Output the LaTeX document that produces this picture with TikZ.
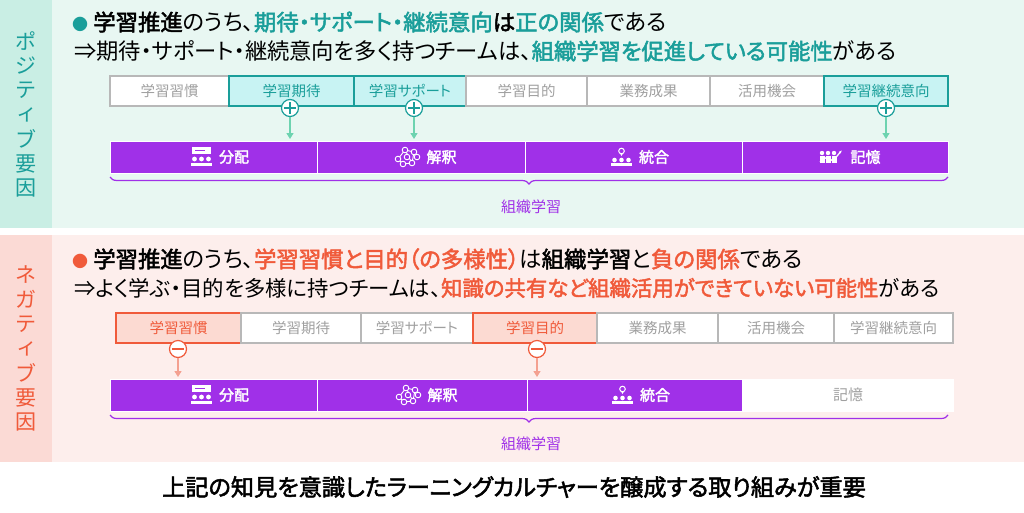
\documentclass[tikz,border=0pt]{standalone}
\usepackage{fontspec}
\setmainfont{Noto Sans CJK JP}[AutoFakeBold=2.2,RawFeature=+palt]
\usetikzlibrary{decorations.pathreplacing,arrows.meta}
\definecolor{teal}{HTML}{1A9E9A}
\definecolor{mint}{HTML}{E8F7F2}
\definecolor{mintband}{HTML}{C9EEE4}
\definecolor{pinkbg}{HTML}{FDEEEC}
\definecolor{pinkband}{HTML}{FBDAD5}
\definecolor{hbox}{HTML}{C8F3F3}
\definecolor{garrow}{HTML}{6DD3B0}
\definecolor{purp}{HTML}{A030E8}
\definecolor{red}{HTML}{F05A3A}
\definecolor{nbox}{HTML}{FCDAD2}
\definecolor{parrow}{HTML}{F4A090}
\definecolor{gtext}{HTML}{A0A0A0}
\definecolor{gline}{HTML}{B8B8B8}
\tikzset{x=1pt,y=-1pt,
 fbox/.style={draw=gline,line width=1.2pt,fill=white,text=gtext,inner sep=0pt},
 posbox/.style={fbox,draw=teal,fill=hbox,text=teal},
 negbox/.style={fbox,draw=red,fill=nbox,text=red},
 pbar/.style={fill=purp,draw=white,line width=1pt,text=white,inner sep=0pt},
 blab/.style={font=\fontsize{14.5}{14}\selectfont,inner sep=1pt},
 plus/.style={circle,draw=teal,fill=white,line width=1.2pt,minimum size=17pt,inner sep=0pt},
 minus/.style={circle,draw=red,fill=white,line width=1.2pt,minimum size=17pt,inner sep=0pt},
 garr/.style={draw=garrow,line width=1.3pt,-{Triangle[width=7pt,length=6pt]}},
 parr/.style={draw=parrow,line width=1.3pt,-{Triangle[width=7pt,length=6pt]}},
 brc/.style={draw=purp,line width=1.2pt,decorate,decoration={brace,mirror,amplitude=7pt}},
 vt/.style={font=\fontsize{21}{21}\selectfont,inner sep=0pt},
}
\newcommand{\bx}[6]{\node[#1,minimum width=#4-#3,minimum height=#6-#5] (#2) at ({(#3+#4)/2},{(#5+#6)/2}) {};}
\begin{document}
\begin{tikzpicture}
\useasboundingbox (0,0) rectangle (1024,512);
\fill[white] (0,0) rectangle (1024,512);
\fill[mint] (0,0) rectangle (1024,228);
\fill[mintband] (0,0) rectangle (52,228);
\fill[pinkbg] (0,235) rectangle (1024,462);
\fill[pinkband] (0,235) rectangle (52,462);
\foreach \c [count=\i] in {ポ,ジ,テ,ィ,ブ,要,因}
  \node[vt,text=teal] (pv\i) at (26,{16+24.6*\i}) {\c};
\foreach \c [count=\i] in {ネ,ガ,テ,ィ,ブ,要,因}
  \node[vt,text=red] (nv\i) at (26,{250+24.6*\i}) {\c};
\node[anchor=west,inner sep=0pt,font=\fontsize{22.4}{22}\selectfont] (t1) at (72,22)
 {\textcolor{teal}{\fontsize{16}{16}\selectfont●} \textbf{学習推進}のうち、\textcolor{teal}{\textbf{期待・サポート・継続意向}}\textbf{は}\textcolor{teal}{\textbf{正の関係}}である};
\node[anchor=west,inner sep=0pt,font=\fontsize{22.3}{22}\selectfont] (t2) at (74,51)
 {⇒期待・サポート・継続意向を多く持つチームは、\textcolor{teal}{\textbf{組織学習を促進している可能性}}がある};
\bx{fbox}{a1}{110}{229}{76}{106}
\bx{posbox}{a2}{229}{354}{76}{106}
\bx{posbox}{a3}{354}{466}{76}{106}
\bx{fbox}{a4}{466}{587}{76}{106}
\bx{fbox}{a5}{587}{710}{76}{106}
\bx{fbox}{a6}{710}{824}{76}{106}
\bx{posbox}{a7}{824}{948}{76}{106}
\foreach \n/\t in {a1/学習習慣,a4/学習目的,a5/業務成果,a6/活用機会}
  \node[blab,text=gtext] at (\n) {\t};
\foreach \n/\t in {a2/学習期待,a3/学習サポート,a7/学習継続意向}
  \node[blab,text=teal] at (\n) {\t};
\bx{pbar}{b1}{110}{317}{141}{173}
\bx{pbar}{b2}{317}{525}{141}{173}
\bx{pbar}{b3}{525}{742}{141}{173}
\bx{pbar}{b4}{742}{948}{141}{173}
\foreach \i/\x in {1/290,2/414,3/886}{
  \node[plus] (p\i) at (\x,108) {};
  \draw[teal,line width=1.1pt] (\x-6,108) -- (\x+6,108) (\x,102) -- (\x,114);
  \coordinate (pe\i) at (\x,139);
  \draw[garr] (p\i.south) -- (pe\i);
}
\foreach \n/\t in {b1/分配,b2/解釈,b3/統合,b4/記憶}
  \node[text=white,font=\fontsize{15}{15}\selectfont\bfseries,anchor=west] (l\n) at ([xshift=2pt]\n.center) {\t};
\newcommand{\iconA}[1]{%
  \begin{scope}[shift={(#1)}]
  \fill[white] (-10,-10) rectangle (9,-3);
  \fill[purp] (-7,-7.5) rectangle (3,-6.5);
  \foreach \dx in {-7,0,7}{\fill[white] (\dx,2) circle (2.4); \fill[white] (\dx-3.5,9) rectangle (\dx+3.5,5.5);}
  \end{scope}}
\newcommand{\iconB}[1]{%
  \begin{scope}[shift={(#1)}]
  \draw[white,line width=0.9pt] (-9,2) -- (-2,-7) -- (7,-5) -- (5,6) -- (-4,7) -- (-9,2) (-2,-7) -- (5,6) (7,-5) -- (10,0);
  \foreach \p in {(-9,2),(-2,-7),(7,-5),(5,6),(-4,7),(10,0),(0,0)} \filldraw[fill=purp,draw=white,line width=0.9pt] \p circle (2.8);
  \end{scope}}
\newcommand{\iconC}[1]{%
  \begin{scope}[shift={(#1)}]
  \draw[white,line width=1pt] (0,-6) circle (2.8);
  \fill[white] (-1.5,-3.5) -- (1.5,-3.5) -- (0,-1) -- cycle;
  \foreach \dx in {-7,0,7}{\fill[white] (\dx,3) circle (2.3); \fill[white] (\dx-3.5,9) rectangle (\dx+3.5,6);}
  \end{scope}}
\newcommand{\iconD}[1]{%
  \begin{scope}[shift={(#1)}]
  \foreach \dx in {-9,-3,3}{\fill[white] (\dx,-4) circle (2.2); \fill[white] (\dx-2.5,6) rectangle (\dx+2.5,-1);}
  \draw[white,line width=1.3pt,-{Latex[length=3.5pt]}] (-11,5) -- (-4,0) -- (2,4) -- (11,-7);
  \end{scope}}
\iconA{[xshift=-14pt]lb1.west}
\iconB{[xshift=-16pt]lb2.west}
\iconC{[xshift=-14pt]lb3.west}
\iconD{[xshift=-16pt]lb4.west}
\draw[brc] (110,177) -- (948,177);
\node[text=purp,font=\fontsize{15}{15}\selectfont] (o1) at (531,207) {組織学習};
\node[anchor=west,inner sep=0pt,font=\fontsize{22.4}{22}\selectfont] (s1) at (72,259)
 {\textcolor{red}{\fontsize{16}{16}\selectfont●} \textbf{学習推進}のうち、\textcolor{red}{\textbf{学習習慣と目的（の多様性）}}は\textbf{組織学習}と\textcolor{red}{\textbf{負の関係}}である};
\node[anchor=west,inner sep=0pt,font=\fontsize{21.4}{21}\selectfont] (s2) at (74,288)
 {⇒よく学ぶ・目的を多様に持つチームは、\textcolor{red}{\textbf{知識の共有など組織活用ができていない可能性}}がある};
\bx{negbox}{c1}{116}{241}{313}{343}
\bx{fbox}{c2}{241}{361}{313}{343}
\bx{fbox}{c3}{361}{473}{313}{343}
\bx{negbox}{c4}{473}{597}{313}{343}
\bx{fbox}{c5}{597}{718}{313}{343}
\bx{fbox}{c6}{718}{834}{313}{343}
\bx{fbox}{c7}{834}{953}{313}{343}
\foreach \n/\t in {c2/学習期待,c3/学習サポート,c5/業務成果,c6/活用機会,c7/学習継続意向}
  \node[blab,text=gtext] at (\n) {\t};
\foreach \n/\t in {c1/学習習慣,c4/学習目的}
  \node[blab,text=red] at (\n) {\t};
\bx{pbar}{d1}{110}{317}{379}{411}
\bx{pbar}{d2}{317}{527}{379}{411}
\bx{pbar}{d3}{527}{742}{379}{411}
\node[fill=white,draw=none,minimum width=212,minimum height=33,inner sep=0pt] (d4) at (848,395) {};
\node[text=gtext,font=\fontsize{15}{15}\selectfont] at (d4) {記憶};
\foreach \i/\x in {1/178,2/537}{
  \node[minus] (m\i) at (\x,349) {};
  \draw[red,line width=1.1pt] (\x-6,349) -- (\x+6,349);
  \coordinate (me\i) at (\x,377);
  \draw[parr] (m\i.south) -- (me\i);
}
\foreach \n/\t in {d1/分配,d2/解釈,d3/統合}
  \node[text=white,font=\fontsize{15}{15}\selectfont\bfseries,anchor=west] (l\n) at ([xshift=2pt]\n.center) {\t};
\iconA{[xshift=-14pt]ld1.west}
\iconB{[xshift=-16pt]ld2.west}
\iconC{[xshift=-14pt]ld3.west}
\draw[brc] (110,415) -- (948,415);
\node[text=purp,font=\fontsize{15}{15}\selectfont] (o2) at (531,444) {組織学習};
\node[font=\fontsize{23.2}{23}\selectfont\bfseries] (fin) at (514,487) {上記の知見を意識したラーニングカルチャーを醸成する取り組みが重要};
\end{tikzpicture}
\end{document}
